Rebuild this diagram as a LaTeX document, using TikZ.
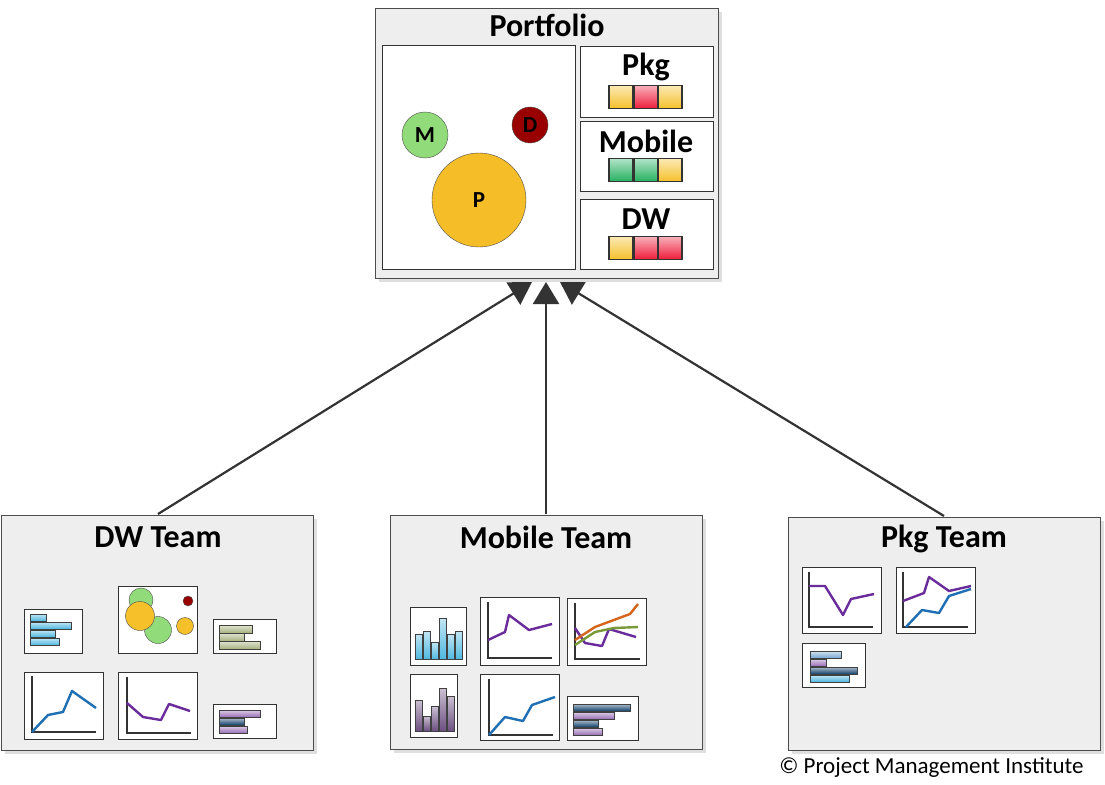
\documentclass[tikz,border=0pt]{standalone}
\usepackage{fontspec}
\setmainfont{Carlito}
\usetikzlibrary{arrows.meta, positioning, shadows}
\definecolor{panelgray}{HTML}{EEEEEE}
\definecolor{ryellow}{HTML}{F5C02A}
\definecolor{rred}{HTML}{EE1C3A}
\definecolor{rgreen}{HTML}{25B060}
\definecolor{lblue}{HTML}{1F6FB5}
\definecolor{lpurple}{HTML}{6A2C9A}
\definecolor{lorange}{HTML}{D5651A}
\definecolor{lolive}{HTML}{7A9A3A}
\definecolor{bblue}{HTML}{4FB8E0}
\definecolor{bpurple}{HTML}{9A70B8}
\definecolor{bolive}{HTML}{A8B27E}
\tikzset{
  box/.style={draw=black!70, fill=panelgray, line width=0.8pt,
    drop shadow={shadow xshift=4pt, shadow yshift=-4pt, fill=black!25}},
  inner/.style={draw=black!80, fill=white, line width=0.7pt},
  title/.style={font=\bfseries\fontsize{32}{34}\selectfont},
  chart/.style={draw=black!80, fill=white, line width=0.7pt},
  axis/.style={draw=black!80, line width=2.2pt},
  trend/.style={line width=2.4pt, line join=round},
  rag/.style={draw=black!80, line width=1.2pt, minimum width=24pt, minimum height=23pt,
    inner sep=0pt, top color=#1!35, bottom color=#1},
  bub/.style={circle, draw=black!70, fill=#1, inner sep=0pt, font=\bfseries\fontsize{23}{25}\selectfont},
  hbar/.style={draw=black!75, line width=0.5pt, top color=#1!35, bottom color=#1},
  link/.style={line width=2.2pt, draw=black!80, -{Triangle[width=26pt,length=22pt]}}
}
\begin{document}
\begin{tikzpicture}[x=1pt, y=-1pt]
\useasboundingbox (0,0) rectangle (1105,784);

% portfolio
\draw[box] (375,8) rectangle (718,278);
\node[title] (portTitle) at (547,25) {Portfolio};
\draw[inner] (382,45) rectangle (575,269);
\node[bub=lolive!60!green!60, minimum size=46pt] (bubM) at (425,135) {M};
\node[bub=red!60!black, minimum size=36pt] (bubD) at (530,125) {D};
\node[bub=ryellow!95!orange, minimum size=94pt] (bubP) at (479,200) {P};
\draw[inner] (580,46) rectangle (713,117);
\draw[inner] (580,121) rectangle (713,191);
\draw[inner] (580,199) rectangle (713,269);
\node[title] (pkgLabel) at (646,67) {Pkg};
\node[title] (mobLabel) at (646,141) {Mobile};
\node[title] (dwLabel) at (646,219) {DW};
\foreach \y/\a/\b/\c in {97/ryellow/rred/ryellow, 170/rgreen/rgreen/ryellow, 248/ryellow/rred/rred} {
  \node[rag=\a] at (621,\y) {};
  \node[rag=\b] at (646,\y) {};
  \node[rag=\c] at (670,\y) {};
}

% teams
\draw[box] (1,515) rectangle (313,750);
\draw[box] (390,515) rectangle (702,749);
\draw[box] (788,517) rectangle (1100,750);
\node[title] (dwTeam) at (158,537) {DW Team};
\node[title] (mobTeam) at (546,537) {Mobile Team};
\node[title] (pkgTeam) at (944,539) {Pkg Team};
\coordinate (dwTop) at (158,514);
\coordinate (mobTop) at (546,514);
\coordinate (pkgTop) at (944,516);
\coordinate (tipA) at (532,282);
\coordinate (tipB) at (546,282);
\coordinate (tipC) at (560,282);
\begin{scope}[y=1pt]
\draw[link] (dwTop) -- (tipA);
\draw[link] (mobTop) -- (tipB);
\draw[link] (pkgTop) -- (tipC);
\end{scope}

% dw team charts
\draw[chart] (24,609) rectangle (82,653);
\foreach \y/\w in {614/16, 622/41, 630/25, 638/29} \draw[hbar=bblue] (30,\y) rectangle (30+\w,\y+7);
\draw[chart] (118,586) rectangle (197,653);
\node[bub=lolive!60!green!60, minimum size=24pt] at (141,600) {};
\node[bub=lolive!60!green!60, minimum size=27pt] at (158,630) {};
\node[bub=ryellow, minimum size=29pt] at (140,616) {};
\node[bub=ryellow, minimum size=17pt] at (185,626) {};
\node[bub=red!60!black, minimum size=10pt] at (188,601) {};
\draw[chart] (213,619) rectangle (276,653);
\foreach \y/\w in {625/33, 633/25, 641/41} \draw[hbar=bolive] (219,\y) rectangle (219+\w,\y+8);
\draw[chart] (24,672) rectangle (103,739);
\draw[axis] (32,676) -- (32,732) -- (96,732);
\draw[trend, lblue] (32,732) -- (48,715) -- (63,712) -- (72,691) -- (96,708);
\draw[chart] (118,672) rectangle (197,739);
\draw[axis] (127,677) -- (127,733) -- (191,733);
\draw[trend, lpurple] (127,703) -- (143,717) -- (161,720) -- (169,704) -- (190,711);
\draw[chart] (213,704) rectangle (276,738);
\foreach \y/\w/\c in {710/41/bpurple, 718/25/lblue!60!black, 726/28/bpurple} \draw[hbar=\c] (219,\y) rectangle (219+\w,\y+7);

% mobile team charts
\draw[chart] (410,607) rectangle (466,665);
\foreach \x/\h in {0/25, 8/28, 16/17, 24/41, 32/25, 40/28} \draw[hbar=bblue] (415+\x,659) rectangle (422+\x,659-\h);
\draw[chart] (480,597) rectangle (559,665);
\draw[axis] (488,602) -- (488,658) -- (552,658);
\draw[trend, lpurple] (488,640) -- (505,632) -- (509,615) -- (529,630) -- (552,624);
\draw[chart] (567,598) rectangle (646,665);
\draw[axis] (575,603) -- (575,659) -- (640,659);
\draw[trend, lpurple] (575,628) -- (585,643) -- (602,646) -- (609,629) -- (636,637);
\draw[trend, lolive] (575,645) -- (595,632) -- (614,628) -- (638,627);
\draw[trend, lorange] (575,640) -- (595,627) -- (630,614) -- (638,604);
\draw[chart] (410,674) rectangle (457,737);
\foreach \x/\h in {0/31, 8/15, 16/25, 24/43, 32/35} \draw[hbar=bpurple!70!black] (415+\x,731) rectangle (422+\x,731-\h);
\draw[chart] (480,674) rectangle (559,740);
\draw[axis] (489,679) -- (489,735) -- (553,735);
\draw[trend, lblue] (489,735) -- (505,717) -- (523,721) -- (532,705) -- (555,697);
\draw[chart] (567,696) rectangle (638,740);
\foreach \y/\w/\c in {704/57/lblue!60!black, 712/41/bpurple, 720/25/lblue!60!black, 728/29/bpurple} \draw[hbar=\c] (573,\y) rectangle (573+\w,\y+7);

% pkg team charts
\draw[chart] (802,567) rectangle (881,633);
\draw[axis] (809,572) -- (809,627) -- (873,627);
\draw[trend, lpurple] (809,586) -- (825,586) -- (843,615) -- (851,599) -- (874,594);
\draw[chart] (896,567) rectangle (975,633);
\draw[axis] (903,572) -- (903,627) -- (968,627);
\draw[trend, lpurple] (903,601) -- (924,593) -- (929,577) -- (949,591) -- (971,586);
\draw[trend, lblue] (906,627) -- (922,610) -- (939,613) -- (949,596) -- (971,589);
\draw[chart] (802,643) rectangle (865,687);
\foreach \y/\w/\c in {651/31/lblue!60!white, 659/16/bpurple, 667/47/lblue!60!black, 675/39/bblue} \draw[hbar=\c] (810,\y) rectangle (810+\w,\y+7);

\node[font=\fontsize{23}{25}\selectfont, anchor=east] (credit) at (1087,768) {© Project Management Institute};
\end{tikzpicture}
\end{document}
